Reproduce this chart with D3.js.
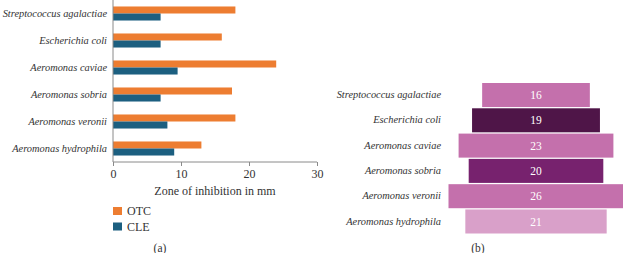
<!DOCTYPE html>
<meta charset="utf-8">
<style>
body { margin: 0; background: #fff; }
svg text { font-family: "Liberation Serif", "DejaVu Serif", serif; fill: #333; }
.spp { font-style: italic; font-size: 10.4px; }
.axis path, .axis line { stroke: #8a8a8a; }
.axis text { font-family: "Liberation Serif", serif; font-size: 12px; fill: #333; }
</style>
<svg width="623" height="253"></svg>
<script src="https://d3js.org/d3.v7.min.js"></script>
<script>

var species = ["Streptococcus agalactiae", "Escherichia coli", "Aeromonas caviae",
               "Aeromonas sobria", "Aeromonas veronii", "Aeromonas hydrophila"];
var otc = [18, 16, 24, 17.5, 18, 13];
var cle = [7, 7, 9.5, 7, 8, 9];
var seriesNames = ["OTC", "CLE"];
var seriesColors = ["#ed7d31", "#1c5f80"];
var xTicks = [0, 10, 20, 30];

// panel b
var zoneB = [16, 19, 23, 20, 26, 21];
var colorsB = ["#c470ac", "#4f1548", "#c470ac", "#77226e", "#c470ac", "#d9a0c9"];

var svg = d3.select("svg");

// ---- panel (a): grouped horizontal bars ----
var x = d3.scaleLinear().domain([0, 30]).range([113, 317]);
var y = d3.scaleBand().domain(species).range([0, 162]).paddingInner(0.48).paddingOuter(0.24);

var gA = svg.append("g");

var rows = gA.selectAll("g.row")
    .data(species)
  .enter().append("g")
    .attr("class", "row")
    .attr("transform", function(d) { return "translate(0," + y(d) + ")"; });

rows.append("rect")
    .attr("x", x(0))
    .attr("y", 0)
    .attr("height", y.bandwidth() / 2)
    .attr("width", function(d, i) { return x(otc[i]) - x(0); })
    .attr("fill", seriesColors[0]);

rows.append("rect")
    .attr("x", x(0))
    .attr("y", y.bandwidth() / 2)
    .attr("height", y.bandwidth() / 2)
    .attr("width", function(d, i) { return x(cle[i]) - x(0); })
    .attr("fill", seriesColors[1]);

gA.append("g")
    .attr("class", "axis")
    .attr("transform", "translate(0,162)")
    .call(d3.axisBottom(x).tickValues(xTicks).tickSize(4).tickPadding(3))
    .call(function(g) { g.select(".domain").attr("d", "M" + x(0) + ",0H" + x(30)); });

gA.append("line")
    .attr("x1", x(0)).attr("x2", x(0))
    .attr("y1", 0).attr("y2", 162)
    .attr("stroke", "#8a8a8a");

gA.selectAll("text.spp")
    .data(species)
  .enter().append("text")
    .attr("class", "spp")
    .attr("x", 107)
    .attr("y", function(d) { return y(d) + y.bandwidth() / 2; })
    .attr("dy", "0.35em")
    .attr("text-anchor", "end")
    .text(function(d) { return d; });

gA.append("text")
    .attr("x", 215).attr("y", 191)
    .attr("dy", "0.35em")
    .attr("text-anchor", "middle")
    .style("font-size", "12px")
    .text("Zone of inhibition in mm");

var legend = gA.selectAll("g.leg")
    .data(seriesNames)
  .enter().append("g")
    .attr("class", "leg")
    .attr("transform", function(d, i) { return "translate(113," + (207 + i * 15.5) + ")"; });

legend.append("rect")
    .attr("width", 9).attr("height", 8)
    .attr("fill", function(d, i) { return seriesColors[i]; });

legend.append("text")
    .attr("x", 14).attr("y", 4)
    .attr("dy", "0.35em")
    .style("font-size", "12px")
    .text(function(d) { return d; });

gA.append("text")
    .attr("x", 160).attr("y", 248)
    .attr("dy", "0.35em")
    .attr("text-anchor", "middle")
    .style("font-size", "11.5px")
    .text("(a)");

// ---- panel (b): centred funnel bars ----
var w = d3.scaleLinear().domain([0, 26]).range([0, 175]);
var yb = d3.scaleBand().domain(species).range([83, 233.5]).paddingInner(0.05);
var cx = 536;

var gB = svg.append("g");

gB.selectAll("rect")
    .data(species)
  .enter().append("rect")
    .attr("x", function(d, i) { return cx - w(zoneB[i]) / 2; })
    .attr("y", function(d) { return yb(d); })
    .attr("width", function(d, i) { return w(zoneB[i]); })
    .attr("height", yb.bandwidth())
    .attr("fill", function(d, i) { return colorsB[i]; });

gB.selectAll("text.val")
    .data(species)
  .enter().append("text")
    .attr("class", "val")
    .attr("x", cx)
    .attr("y", function(d) { return yb(d) + yb.bandwidth() / 2; })
    .attr("dy", "0.35em")
    .attr("text-anchor", "middle")
    .style("font-size", "11.5px")
    .style("fill", "#fff")
    .text(function(d, i) { return zoneB[i]; });

gB.selectAll("text.spp")
    .data(species)
  .enter().append("text")
    .attr("class", "spp")
    .attr("x", 441)
    .attr("y", function(d) { return yb(d) + yb.bandwidth() / 2; })
    .attr("dy", "0.3em")
    .attr("text-anchor", "end")
    .text(function(d) { return d; });

gB.append("text")
    .attr("x", 478).attr("y", 248)
    .attr("dy", "0.35em")
    .attr("text-anchor", "middle")
    .style("font-size", "11.5px")
    .text("(b)");

</script>
